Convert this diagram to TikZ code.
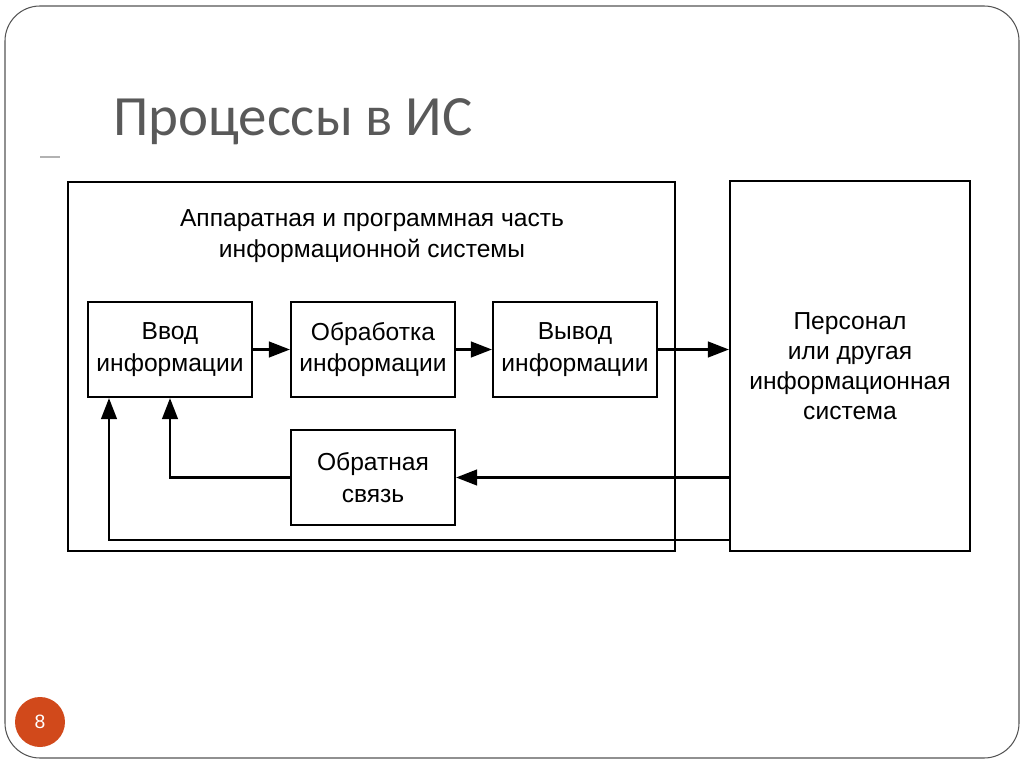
\documentclass[tikz,border=0pt]{standalone}
\usepackage{fontspec}
\setmainfont{Liberation Sans}
\newfontfamily\titlefont{Carlito}
\usetikzlibrary{arrows.meta}

\definecolor{slideline}{RGB}{85,85,85}
\definecolor{titlegray}{RGB}{89,89,89}
\definecolor{pagecol}{RGB}{209,73,27}

\begin{document}
\begin{tikzpicture}[x=0.02cm, y=-0.02cm,
        blk/.style={draw, line width=1.3pt, align=center, inner sep=2pt,
                    font=\fontsize{14}{18}\selectfont},
        arr/.style={-{Triangle[length=12pt,width=9pt]}, line width=1.2pt}]
        \useasboundingbox (0,0) rectangle (1024,767);
        % slide frame and title
        \draw[slideline, line width=0.6pt, rounded corners=0.7cm] (5,6) rectangle (1019,758);
        \draw (107,135) node[anchor=base west, text=titlegray,
              font=\titlefont\fontsize{32.4}{38}\selectfont](title) {Процессы в ИС};
        \draw[gray!60, line width=0.6pt] (40,157) -- (60,157);
        \draw (40,722) node[circle, fill=pagecol, minimum size=1cm, text=white,
              font=\fontsize{11}{13}\selectfont](pnum) {8};
        % blocks
        \draw (371.5,366.5) node[blk, minimum width=12.14cm, minimum height=7.38cm](hw) {};
        \draw (372,236) node[align=center, font=\fontsize{14}{18}\selectfont](hwtitle)
              {Аппаратная и программная часть\\информационной системы};
        \draw (170,349.5) node[blk, minimum width=3.28cm, minimum height=1.9cm](vvod) {Ввод\\информации};
        \draw (373,349.5) node[blk, minimum width=3.28cm, minimum height=1.9cm](obrab) {Обработка\\информации};
        \draw (575,349.5) node[blk, minimum width=3.28cm, minimum height=1.9cm](vyvod) {Вывод\\информации};
        \draw (373,477.5) node[blk, minimum width=3.28cm, minimum height=1.9cm](fb) {Обратная\\связь};
        \draw (850,366) node[blk, minimum width=4.8cm, minimum height=7.4cm,
              font=\fontsize{14}{17}\selectfont](pers) {Персонал\\или другая\\информационная\\система};
        \coordinate (ret) at (109,540);
        % connectors
        \draw[arr] (vvod) -- (obrab);
        \draw[arr] (obrab) -- (vyvod);
        \draw[arr] (vyvod.east) -- (vyvod.east -| pers.west);
        \draw[arr] (pers.west |- fb.east) -- (fb.east);
        \draw[arr] (fb.west) -| (vvod.south);
        \draw[arr] (pers.west |- ret) -| (vvod.south -| ret);
\end{tikzpicture}
\end{document}
